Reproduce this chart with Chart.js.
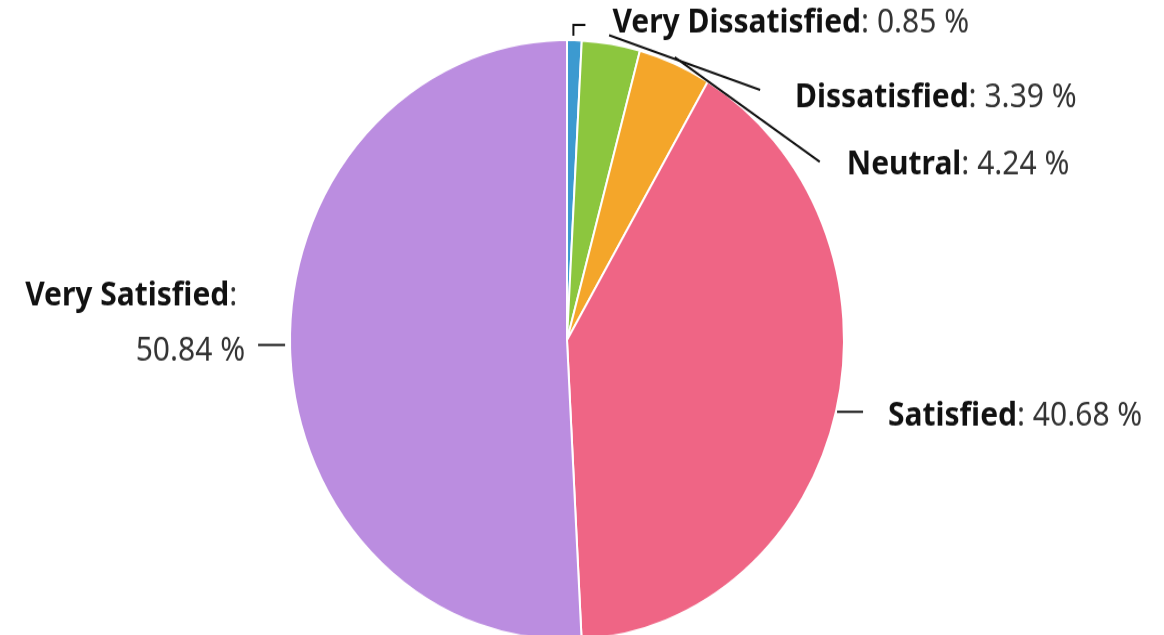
<!DOCTYPE html>
<html>
<head>
<meta charset="utf-8">
<script src="https://cdn.jsdelivr.net/npm/chart.js@4.4.1/dist/chart.umd.min.js"></script>
<style>
  html, body { margin: 0; padding: 0; background: #fff; }
  body { height: 635px; }
  #wrap { width: 1164px; height: 600px; transform: scaleY(1.083); transform-origin: 0 0; }
</style>
</head>
<body>
<div id="wrap"><canvas id="pieChart" width="1164" height="600"></canvas></div>
<script>
var labels = ['Very Dissatisfied', 'Dissatisfied', 'Neutral', 'Satisfied', 'Very Satisfied'];
var percents = [0.85, 3.39, 4.24, 40.68, 50.84];
var colors = ['#3c9ad0', '#8cc63e', '#f4a62a', '#ef6585', '#bb8de0'];

// where each outside label goes, relative to the outer middle point of its slice
var labelSpots = [
    { start: [-1, -4], elbow: [-1, -14], end: [11, -14], text: [27, -1.4] },
    { start: [-2, -8], end: [149, 42.5], text: [35, 7.9] },
    { start: [0, -6], end: [145, 90.6], text: [27, 2.8] },
    { start: [1, 0.4], end: [27, 0.4], text: [25, 4.2] },
    { start: [-5, -2.8], end: [-32, -2.8], text: [-13, 5.5], wrap: true }
];

var outsideLabels = {
    id: 'outsideLabels',
    afterDatasetsDraw: function(chart) {
        var ctx = chart.ctx;
        var meta = chart.getDatasetMeta(0);
        var boldFont = 'bold 30px "Noto Sans"';
        var normFont = '30px "Noto Sans"';
        ctx.save();
        meta.data.forEach(function(arc, i) {
            var p = arc.getProps(['x', 'y', 'startAngle', 'endAngle', 'outerRadius'], true);
            var mid = (p.startAngle + p.endAngle) / 2;
            var px = p.x + Math.cos(mid) * p.outerRadius;
            var py = p.y + Math.sin(mid) * p.outerRadius;
            var s = labelSpots[i];

            ctx.strokeStyle = '#111';
            ctx.lineWidth = 2;
            ctx.beginPath();
            ctx.moveTo(px + s.start[0], py + s.start[1]);
            if (s.elbow) ctx.lineTo(px + s.elbow[0], py + s.elbow[1]);
            var ex = px + s.end[0], ey = py + s.end[1];
            ctx.lineTo(ex, ey);
            ctx.stroke();

            var tx = ex + s.text[0], ty = ey + s.text[1];
            var name = chart.data.labels[i];
            var val = chart.data.datasets[0].data[i].toFixed(2) + ' %';
            ctx.textBaseline = 'middle';
            ctx.textAlign = 'left';
            if (s.wrap) {
                // label wraps onto two lines, right aligned to the connector
                ctx.font = boldFont;
                var w1 = ctx.measureText(name).width;
                ctx.font = normFont;
                var w2 = ctx.measureText(': ').width;
                var w3 = ctx.measureText(val).width;
                var y1 = ty - 51;
                ctx.font = boldFont;
                ctx.fillStyle = '#111';
                ctx.fillText(name, tx - w1 - w2, y1);
                ctx.font = normFont;
                ctx.fillStyle = '#333';
                ctx.fillText(':', tx - w2, y1);
                ctx.fillText(val, tx - w3, ty);
            } else {
                ctx.font = boldFont;
                ctx.fillStyle = '#111';
                ctx.fillText(name, tx, ty);
                var w = ctx.measureText(name).width;
                ctx.font = normFont;
                ctx.fillStyle = '#333';
                ctx.fillText(': ' + val, tx + w, ty);
            }
        });
        ctx.restore();
    }
};

var config = {
    type: 'pie',
    data: {
        labels: labels,
        datasets: [{
            data: percents,
            backgroundColor: colors,
            borderColor: '#ffffff',
            borderWidth: 2
        }]
    },
    options: {
        responsive: false,
        animation: false,
        layout: {
            padding: { top: 36, bottom: 8, left: 0, right: 30 }
        },
        plugins: {
            legend: { display: false },
            tooltip: { enabled: false }
        }
    },
    plugins: [outsideLabels]
};

window.onload = function() {
    var pieChart = document.getElementById('pieChart').getContext('2d');
    window.myPie = new Chart(pieChart, config);
};
</script>
</body>
</html>
